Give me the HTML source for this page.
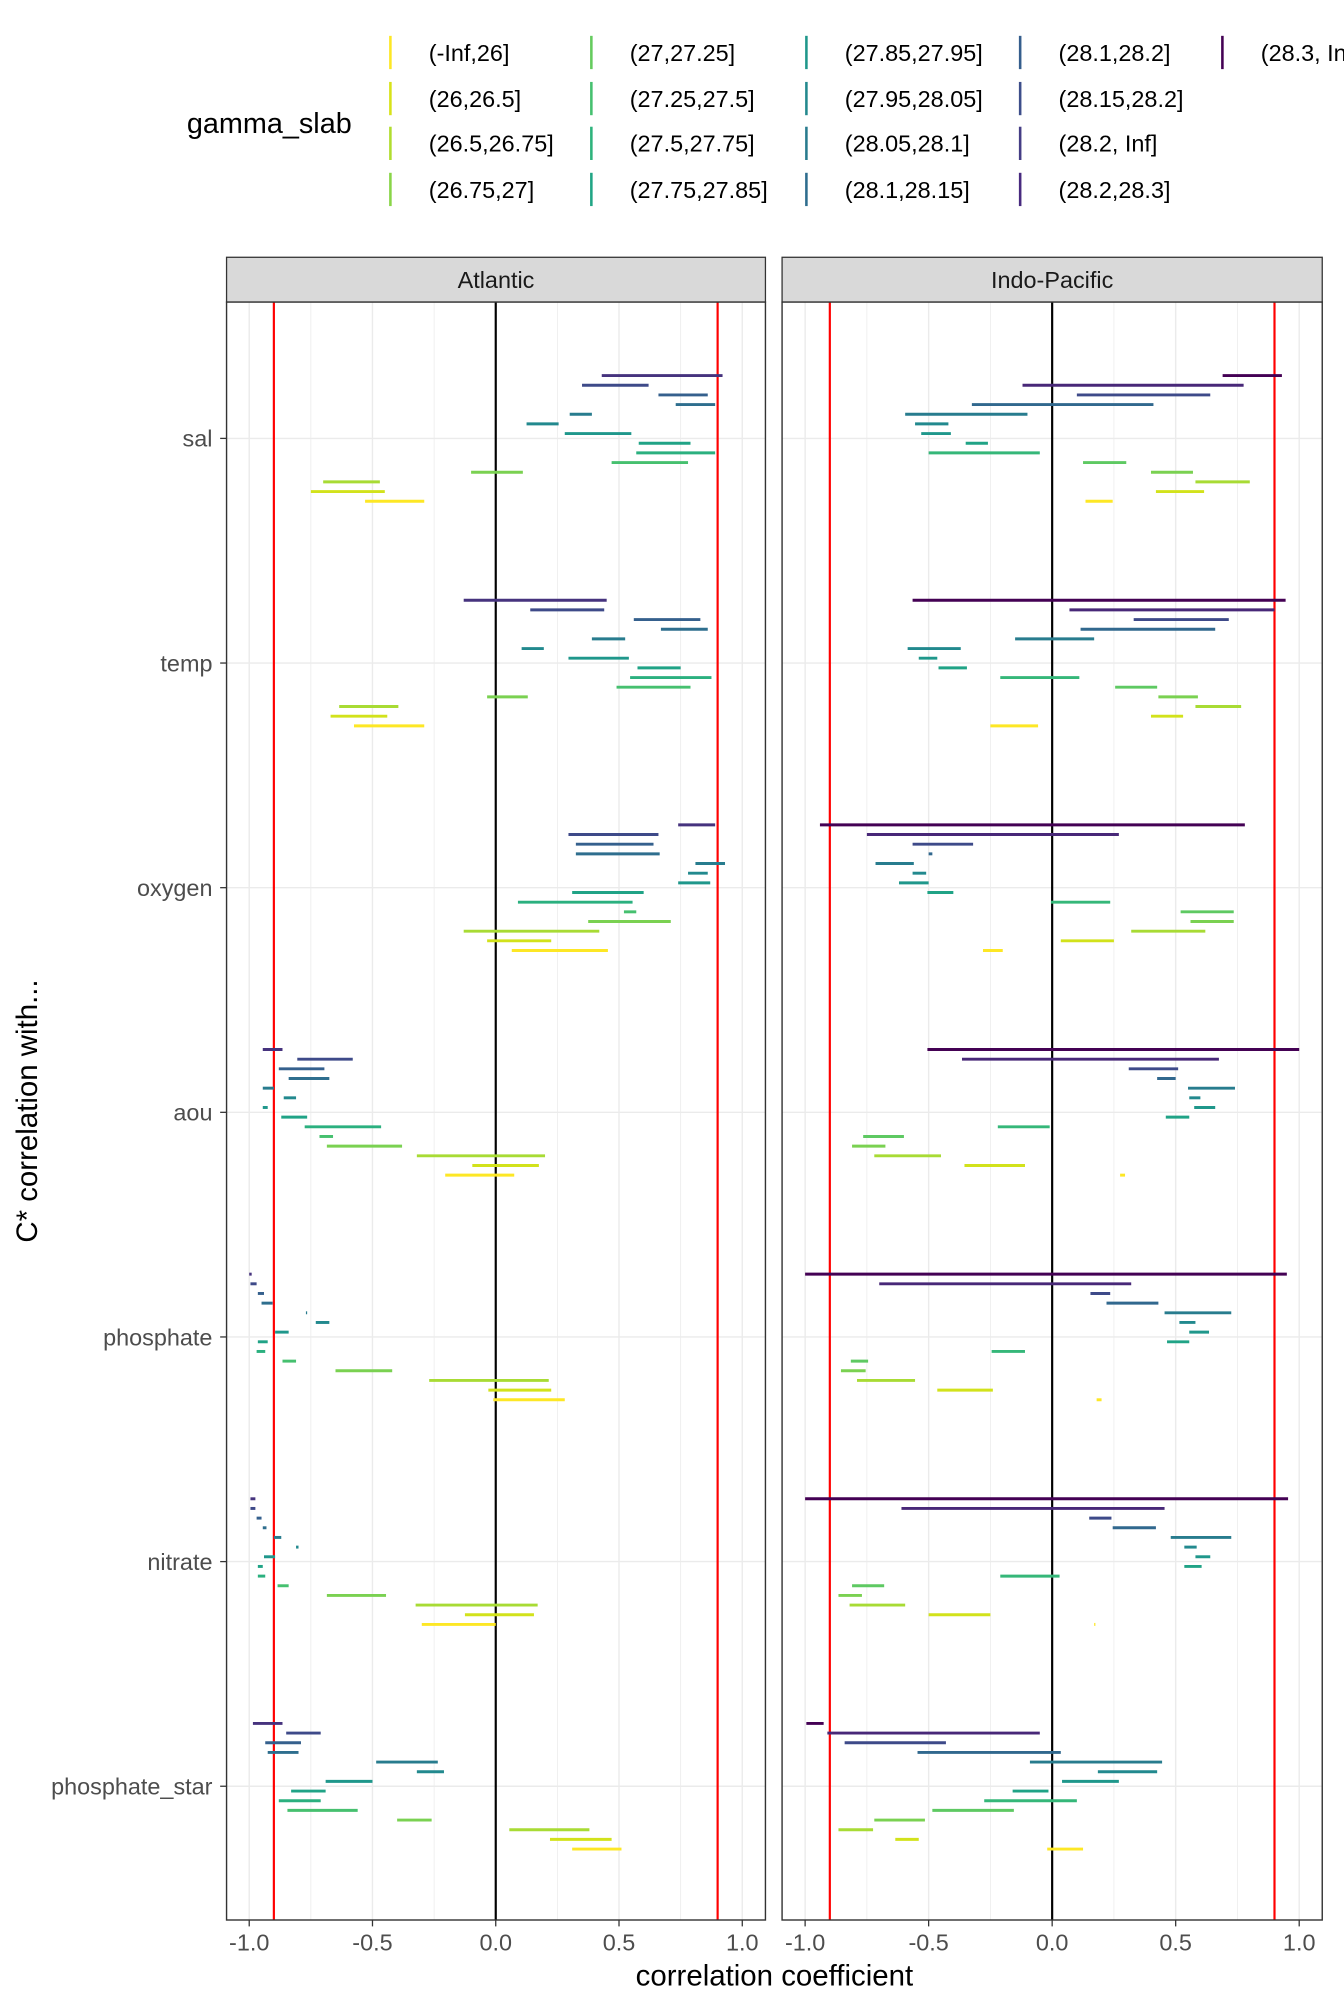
<!DOCTYPE html>
<html><head><meta charset="utf-8"><style>
html,body{margin:0;padding:0;background:#fff;}
svg{display:block;font-family:"Liberation Sans",Arial,sans-serif;}
</style></head><body>
<svg id="chart" width="1344" height="2016" viewBox="0 0 1050 1575" xmlns="http://www.w3.org/2000/svg">
<g id="legend"></g>
<g id="panels"></g>
<text x="605" y="1551" font-size="23" text-anchor="middle" fill="#000">correlation coefficient</text>
<text transform="translate(29,868) rotate(-90)" font-size="23" text-anchor="middle" fill="#000">C* correlation with...</text>
</svg>
<script>
const categories = ["sal","temp","oxygen","aou","phosphate","nitrate","phosphate_star"];
const panelNames = ["Atlantic","Indo-Pacific"];
const xTicks = [-1.0,-0.5,0.0,0.5,1.0];
const xTickLabels = ["-1.0","-0.5","0.0","0.5","1.0"];
const legendLabels = ["(-Inf,26]","(26,26.5]","(26.5,26.75]","(26.75,27]","(27,27.25]","(27.25,27.5]","(27.5,27.75]","(27.75,27.85]","(27.85,27.95]","(27.95,28.05]","(28.05,28.1]","(28.1,28.15]","(28.1,28.2]","(28.15,28.2]","(28.2, Inf]","(28.2,28.3]","(28.3, Inf]"];
const legendColors = ["#FDE725","#D8E219","#B0DD2F","#89D548","#65CB5E","#46C06F","#2EB37C","#21A585","#1F978B","#23898E","#297B8E","#2E6D8E","#355E8D","#3D4E8A","#453D85","#482A7F","#440154"];
const atlColors = ["#46337E","#3E4A89","#35608D","#2E6E8E","#287C8E","#22898E","#1F978B","#20A386","#2BB07F","#46C06F","#7AD151","#A8DB34","#D2E21B","#FDE725"];
const indoColors = ["#440154","#482878","#3E4A89","#31688E","#287C8E","#22898E","#1F978B","#20A386","#35B779","#5EC962","#7AD151","#A8DB34","#D2E21B","#FDE725"];
const thresholds = [-0.9, 0.9];

const atlSal = [[0.43,0.92],[0.35,0.62],[0.66,0.86],[0.73,0.89],[0.30,0.39],[0.125,0.255],[0.28,0.55],[0.58,0.79],[0.57,0.89],[0.47,0.78],[-0.10,0.11],[-0.70,-0.47],[-0.75,-0.45],[-0.53,-0.29]];
const atlTemp = [[-0.13,0.45],[0.14,0.44],[0.56,0.83],[0.67,0.86],[0.39,0.525],[0.105,0.195],[0.295,0.54],[0.575,0.75],[0.545,0.875],[0.49,0.79],[-0.035,0.13],[-0.635,-0.395],[-0.67,-0.44],[-0.575,-0.29]];
const atlOxygen = [[0.74,0.89],[0.295,0.66],[0.325,0.64],[0.325,0.665],[0.81,0.93],[0.78,0.86],[0.74,0.87],[0.31,0.60],[0.09,0.555],[0.52,0.57],[0.375,0.71],[-0.13,0.42],[-0.035,0.225],[0.065,0.455]];
const atlAou = [[-0.945,-0.865],[-0.805,-0.58],[-0.88,-0.695],[-0.84,-0.675],[-0.945,-0.90],[-0.86,-0.81],[-0.945,-0.925],[-0.87,-0.765],[-0.775,-0.465],[-0.715,-0.66],[-0.685,-0.38],[-0.32,0.20],[-0.095,0.175],[-0.205,0.075]];
const atlPhosphate = [[-1.0,-0.99],[-0.995,-0.97],[-0.965,-0.94],[-0.95,-0.905],[-0.77,-0.765],[-0.73,-0.675],[-0.895,-0.84],[-0.965,-0.925],[-0.97,-0.935],[-0.865,-0.81],[-0.65,-0.42],[-0.27,0.215],[-0.03,0.225],[-0.01,0.28]];
const atlNitrate = [[-0.995,-0.975],[-0.995,-0.975],[-0.97,-0.95],[-0.945,-0.93],[-0.90,-0.87],[-0.81,-0.80],[-0.94,-0.895],[-0.965,-0.945],[-0.965,-0.935],[-0.885,-0.84],[-0.685,-0.445],[-0.325,0.17],[-0.125,0.155],[-0.30,0.0]];
const atlPstar = [[-0.985,-0.865],[-0.85,-0.71],[-0.935,-0.79],[-0.925,-0.80],[-0.485,-0.235],[-0.32,-0.21],[-0.69,-0.50],[-0.83,-0.69],[-0.88,-0.71],[-0.845,-0.56],[-0.40,-0.26],[0.055,0.38],[0.22,0.47],[0.31,0.51]];
const indoSal = [[0.69,0.93],[-0.12,0.775],[0.10,0.64],[-0.325,0.41],[-0.595,-0.10],[-0.555,-0.42],[-0.53,-0.41],[-0.35,-0.26],[-0.50,-0.05],[0.125,0.30],[0.40,0.57],[0.58,0.80],[0.42,0.615],[0.135,0.245]];
const indoTemp = [[-0.565,0.945],[0.07,0.90],[0.33,0.715],[0.115,0.66],[-0.15,0.17],[-0.585,-0.37],[-0.54,-0.465],[-0.46,-0.345],[-0.21,0.11],[0.255,0.425],[0.43,0.59],[0.58,0.765],[0.40,0.53],[-0.25,-0.057]];
const indoOxygen = [[-0.94,0.78],[-0.75,0.27],[-0.565,-0.32],[-0.50,-0.485],[-0.715,-0.56],[-0.565,-0.51],[-0.62,-0.50],[-0.505,-0.40],[-0.005,0.235],[0.52,0.735],[0.56,0.735],[0.32,0.62],[0.035,0.25],[-0.28,-0.20]];
const indoAou = [[-0.505,1.0],[-0.365,0.675],[0.31,0.51],[0.425,0.50],[0.55,0.74],[0.555,0.60],[0.575,0.66],[0.46,0.555],[-0.22,-0.01],[-0.765,-0.60],[-0.81,-0.675],[-0.72,-0.45],[-0.355,-0.11],[0.275,0.295]];
const indoPhosphate = [[-1.0,0.95],[-0.70,0.32],[0.155,0.235],[0.22,0.43],[0.455,0.725],[0.515,0.58],[0.555,0.635],[0.465,0.555],[-0.245,-0.11],[-0.815,-0.745],[-0.855,-0.755],[-0.79,-0.555],[-0.465,-0.24],[0.18,0.20]];
const indoNitrate = [[-1.0,0.955],[-0.61,0.455],[0.15,0.24],[0.245,0.42],[0.48,0.725],[0.535,0.585],[0.58,0.64],[0.535,0.605],[-0.21,0.03],[-0.81,-0.68],[-0.865,-0.77],[-0.82,-0.595],[-0.50,-0.25],[0.17,0.175]];
const indoPstar = [[-0.995,-0.925],[-0.91,-0.05],[-0.84,-0.43],[-0.545,0.035],[-0.09,0.445],[0.185,0.425],[0.04,0.27],[-0.16,-0.015],[-0.275,0.10],[-0.485,-0.155],[-0.72,-0.515],[-0.865,-0.725],[-0.635,-0.54],[-0.02,0.125]];

const atlData = [atlSal,atlTemp,atlOxygen,atlAou,atlPhosphate,atlNitrate,atlPstar];
const indoData = [indoSal,indoTemp,indoOxygen,indoAou,indoPhosphate,indoNitrate,indoPstar];

const NS="http://www.w3.org/2000/svg";
function mk(tag,attrs,parentEl){const e=document.createElementNS(NS,tag);for(const k in attrs)e.setAttribute(k,attrs[k]);parentEl.appendChild(e);return e;}

const lg=document.getElementById('legend');
const t0=mk('text',{x:146,y:104,'font-size':22.5,fill:'#000'},lg);t0.textContent='gamma_slab';


const colX=[305,462,630,797,955], rowY=[41,77,112,148];
legendLabels.forEach((lab,i)=>{
  const c=Math.floor(i/4), r=i%4;
  const g=mk('g',{},lg);
  
  
  mk('line',{x1:colX[c],x2:colX[c],y1:rowY[r]-13,y2:rowY[r]+13,stroke:legendColors[i],'stroke-width':2},g);
  const t=mk('text',{x:colX[c]+30,y:rowY[r]+6.5,'font-size':18.3,fill:'#000'},g);t.textContent=lab;
});

const panelsG=document.getElementById('panels');
const panelX=[[177,598],[611,1033]];
const plotTop=236,plotBottom=1500;
const yCenter=i=>342.5+i*175.5;
const slotY=(i,k)=>yCenter(i)+(k-6.5)*7.55;

panelNames.forEach((pn,p)=>{
  const x0=panelX[p][0], x1=panelX[p][1];
  const zero=p===0?387.3:822;
  const unit=p===0?192.6:193;
  const xs=v=>zero+v*unit;
  const g=mk('g',{},panelsG);
  
  
  const st=mk('rect',{x:x0,y:201,width:x1-x0,height:35,fill:'#D9D9D9',stroke:'#333','stroke-width':1},g);
  
  
  const stt=mk('text',{x:(x0+x1)/2,y:225,'font-size':18.3,'text-anchor':'middle',fill:'#1A1A1A'},g);stt.textContent=pn;
  mk('rect',{x:x0,y:plotTop,width:x1-x0,height:plotBottom-plotTop,fill:'#fff'},g);
  [-0.75,-0.25,0.25,0.75].forEach(v=>mk('line',{x1:xs(v),x2:xs(v),y1:plotTop,y2:plotBottom,stroke:'#EBEBEB','stroke-width':0.6},g));
  xTicks.forEach(v=>mk('line',{x1:xs(v),x2:xs(v),y1:plotTop,y2:plotBottom,stroke:'#EBEBEB','stroke-width':1.1},g));
  categories.forEach((c,i)=>mk('line',{x1:x0,x2:x1,y1:yCenter(i),y2:yCenter(i),stroke:'#EBEBEB','stroke-width':1.1},g));
  const z=mk('line',{x1:xs(0),x2:xs(0),y1:plotTop,y2:plotBottom,stroke:'#000','stroke-width':1.7},g);
  
  
  thresholds.forEach(v=>{
    const l=mk('line',{x1:xs(v),x2:xs(v),y1:plotTop,y2:plotBottom,stroke:'#FF0000','stroke-width':1.7},g);
    
    
  });
  const data=p===0?atlData:indoData;
  const cols=p===0?atlColors:indoColors;
  data.forEach((rows,i)=>{
    rows.forEach((r,k)=>{
      const b=mk('line',{x1:xs(r[0]),x2:xs(r[1]),y1:slotY(i,k),y2:slotY(i,k),stroke:cols[k],'stroke-width':2.3},g);
      
      
    });
  });
  mk('rect',{x:x0,y:plotTop,width:x1-x0,height:plotBottom-plotTop,fill:'none',stroke:'#333','stroke-width':1.1},g);
  xTicks.forEach((v,j)=>{
    mk('line',{x1:xs(v),x2:xs(v),y1:plotBottom,y2:plotBottom+5,stroke:'#333','stroke-width':1},g);
    const t=mk('text',{x:xs(v),y:plotBottom+24,'font-size':18.3,'text-anchor':'middle',fill:'#4D4D4D'},g);t.textContent=xTickLabels[j];
    
    
  });
});
categories.forEach((c,i)=>{
  mk('line',{x1:172,x2:177,y1:yCenter(i),y2:yCenter(i),stroke:'#333','stroke-width':1},panelsG);
  const t=mk('text',{x:166,y:yCenter(i)+6.5,'font-size':18.3,'text-anchor':'end',fill:'#4D4D4D'},panelsG);t.textContent=c;
  
  
});
</script>
</body></html>
